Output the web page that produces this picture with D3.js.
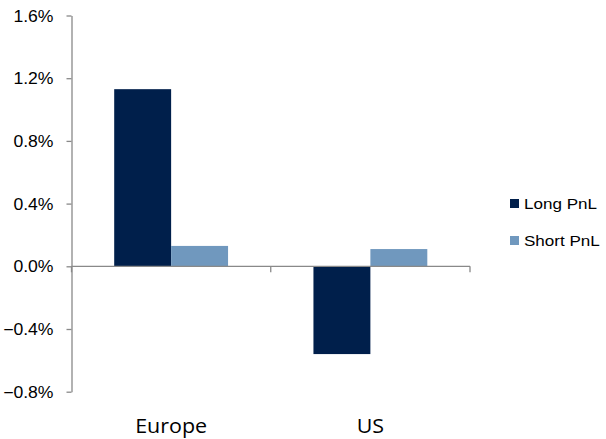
<!DOCTYPE html>
<html>
<head>
<meta charset="utf-8">
<script src="https://cdn.jsdelivr.net/npm/d3@7"></script>
<style>
  html, body { margin: 0; padding: 0; background: #fff; }
  svg { display: block; }
  .sans { font-family: Arial, "Liberation Sans", sans-serif; }
</style>
</head>
<body>
<svg id="chart" width="606" height="439"></svg>
<script>
// Regions and the two PnL series (in %)
const categories = ["Europe", "US"];
const seriesNames = ["Long PnL", "Short PnL"];
const longPnL = [1.13, -0.56];
const shortPnL = [0.13, 0.11];
const yTicks = [-0.8, -0.4, 0.0, 0.4, 0.8, 1.2, 1.6];

const colors = { "Long PnL": "#001f4b", "Short PnL": "#7098be" };
const axisColor = "#898989";
const textScaleX = 1.1;

const svg = d3.select("#chart");

const plotLeft = 71.5, plotRight = 470;
const y = d3.scaleLinear().domain([-0.8, 1.6]).range([391.7, 15.5]);
const x = d3.scaleBand().domain(categories).range([plotLeft, plotRight]).padding(0);
const xs = d3.scaleBand().domain(seriesNames).range([0, x.bandwidth()])
  .paddingInner(0).paddingOuter(0.75);

const rows = categories.map((c, i) => ({
  cat: c,
  vals: [
    { name: "Long PnL", v: longPnL[i] },
    { name: "Short PnL", v: shortPnL[i] }
  ]
}));

// Bars
svg.append("g").selectAll("g")
  .data(rows).join("g")
  .attr("transform", d => `translate(${x(d.cat)},0)`)
  .selectAll("rect")
  .data(d => d.vals).join("rect")
  .attr("x", d => xs(d.name))
  .attr("width", xs.bandwidth())
  .attr("y", d => y(Math.max(0, d.v)))
  .attr("height", d => Math.abs(y(d.v) - y(0)))
  .attr("fill", d => colors[d.name]);

// Y axis
const yAxis = svg.append("g")
  .attr("transform", `translate(${plotLeft},0)`)
  .call(d3.axisLeft(y).tickValues(yTicks).tickSize(5).tickSizeOuter(0)
    .tickFormat(d => d3.format(".1f")(d) + "%"));
yAxis.select(".domain").attr("stroke", axisColor).attr("stroke-width", 1.3);
yAxis.selectAll(".tick line").attr("stroke", axisColor).attr("stroke-width", 1.3);
yAxis.selectAll(".tick text").remove();
yAxis.selectAll(".tick").append("text")
  .attr("class", "sans")
  .attr("transform", `translate(-18,0) scale(${textScaleX},1)`)
  .attr("text-anchor", "end")
  .attr("dy", "0.35em")
  .attr("fill", "#000")
  .attr("font-family", null)
  .style("font-size", "16px")
  .text(d => d3.format(".1f")(d) + "%");
yAxis.attr("font-family", null);

// X axis along zero
const xAxis = svg.append("g")
  .attr("transform", `translate(0,${y(0)})`);
xAxis.append("line")
  .attr("x1", plotLeft).attr("x2", plotRight)
  .attr("stroke", axisColor).attr("stroke-width", 1.3);
const boundaries = [plotLeft].concat(categories.map(c => x(c) + x.bandwidth()));
xAxis.selectAll(".bt").data(boundaries).join("line")
  .attr("class", "bt")
  .attr("x1", d => d).attr("x2", d => d)
  .attr("y1", 0).attr("y2", 6)
  .attr("stroke", axisColor).attr("stroke-width", 1.3);

// Category labels
svg.append("g").selectAll("text")
  .data(categories).join("text")
  .attr("transform", d => `translate(${x(d) + x.bandwidth() / 2},433) scale(${textScaleX},1)`)
  .attr("text-anchor", "middle")
  .attr("fill", "#000")
  .style("font-family", "'Open Sans', sans-serif")
  .style("font-size", "19.5px")
  .text(d => d);

// Legend
const legend = svg.append("g").attr("transform", "translate(510,199)");
const li = legend.selectAll("g").data(seriesNames).join("g")
  .attr("transform", (d, i) => `translate(0,${i * 37})`);
li.append("rect")
  .attr("width", 9).attr("height", 9)
  .attr("fill", d => colors[d]);
li.append("text")
  .attr("class", "sans")
  .attr("transform", `translate(14,4.5) scale(${textScaleX},1)`)
  .attr("dy", "0.35em")
  .attr("fill", "#000")
  .style("font-size", "15.5px")
  .text(d => d);
</script>
</body>
</html>
